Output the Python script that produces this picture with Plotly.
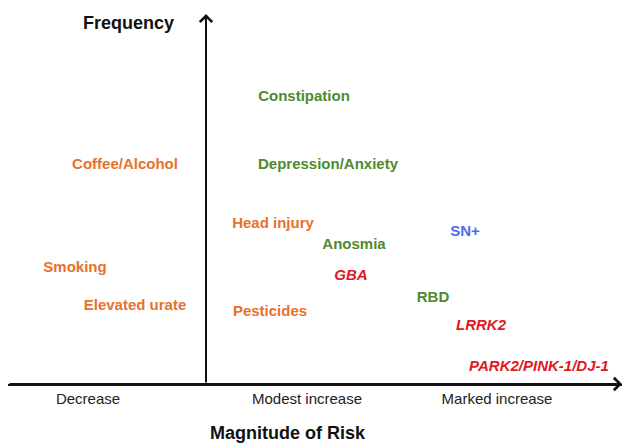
import plotly.graph_objects as go

# ---- data ----
labels = ["Constipation", "Coffee/Alcohol", "Depression/Anxiety", "Head injury", "Anosmia",
          "SN+", "Smoking", "GBA", "Elevated urate", "Pesticides", "RBD", "LRRK2",
          "PARK2/PINK-1/DJ-1"]
risk = [0.98, -0.81, 1.22, 0.67, 1.48, 2.59, -1.31, 1.45, -0.71, 0.64, 2.27, 2.75, 3.33]
frequency = [2.87, 2.19, 2.19, 1.60, 1.39, 1.52, 1.16, 1.08, 0.78, 0.72, 0.86, 0.58, 0.17]
group = ["prodromal", "environmental", "prodromal", "environmental", "prodromal",
         "imaging", "environmental", "genetic", "environmental", "environmental",
         "prodromal", "genetic", "genetic"]

tick_positions = [-1.18, 1.01, 2.91]
tick_labels = ["Decrease", "Modest increase", "Marked increase"]

x_title = "Magnitude of Risk"
y_title = "Frequency"

# ---- styles ----
group_color = {"environmental": "#E8712C", "prodromal": "#4E8A2E",
               "imaging": "#4A6CF2", "genetic": "#E01822"}
group_italic = {"environmental": False, "prodromal": False, "imaging": False, "genetic": True}
FONT = "Liberation Sans, Arial, Helvetica, sans-serif"

fig = go.Figure()
for g in ["environmental", "prodromal", "imaging", "genetic"]:
    idx = [i for i, gg in enumerate(group) if gg == g]
    fig.add_trace(go.Scatter(
        x=[risk[i] for i in idx], y=[frequency[i] for i in idx],
        text=[labels[i] for i in idx], mode="text",
        textfont=dict(family=FONT, size=15, color=group_color[g],
                      weight="bold", style="italic" if group_italic[g] else "normal"),
        textposition="middle center", showlegend=False, hoverinfo="text", cliponaxis=False))

fig.update_xaxes(range=[-1.98, 4.16], showgrid=False, zeroline=False,
                 showline=True, linecolor="#111", linewidth=2,
                 tickvals=tick_positions, ticktext=tick_labels, ticks="",
                 tickfont=dict(family=FONT, size=15, color="#222"), ticklabelstandoff=0)
fig.update_yaxes(range=[0, 3.84], showgrid=False, zeroline=False, showline=False,
                 showticklabels=False)

# axis arrows
fig.add_annotation(x=4.16, y=0, ax=-1.98, ay=0, xref="x", yref="y", axref="x", ayref="y",
                   showarrow=True, arrowhead=4, arrowsize=1.2, arrowwidth=2, arrowcolor="#111", text="")
fig.add_annotation(x=0, y=3.70, ax=0, ay=0, xref="x", yref="y", axref="x", ayref="y",
                   showarrow=True, arrowhead=4, arrowsize=1.2, arrowwidth=2, arrowcolor="#111", text="")

fig.add_annotation(x=-0.78, y=3.61, xref="x", yref="y", text=y_title, showarrow=False,
                   font=dict(family=FONT, size=18, color="#111", weight="bold"))
fig.add_annotation(x=0.82, y=-0.1276, xref="x", yref="paper", yanchor="middle", text=x_title,
                   showarrow=False, font=dict(family=FONT, size=18, color="#111", weight="bold"))

fig.update_layout(width=624, height=443, margin=dict(l=8, r=2, t=0, b=59),
                  plot_bgcolor="white", paper_bgcolor="white")
fig.write_html("out.html", config={"displayModeBar": False},
               post_script="document.body.style.margin='0';")
